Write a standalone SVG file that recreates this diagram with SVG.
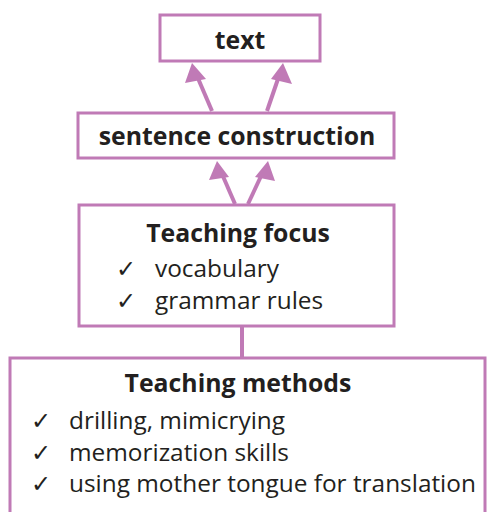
<svg xmlns="http://www.w3.org/2000/svg" width="487" height="512" viewBox="0 0 487 512">
<style>
.box{fill:#fff;stroke:#c07ab6;stroke-width:3}
.ln{stroke:#c07ab6;stroke-width:4;fill:none}
.b{font-family:"Open Sans","Noto Sans",sans-serif;font-weight:bold;font-size:24.8px;fill:#231f20}
.r{font-family:"Open Sans","Noto Sans",sans-serif;font-size:24.4px;fill:#231f20}
.ck{font-family:"DejaVu Sans",sans-serif;font-size:24px;fill:#231f20}
</style>
<g id="connectors">
<line class="ln" x1="212" y1="111" x2="197" y2="76"/>
<polygon points="192,63 185,83 206,79" fill="#c07ab6"/>
<line class="ln" x1="267" y1="111" x2="279" y2="76"/>
<polygon points="283,63 271,79 292,84" fill="#c07ab6"/>
<line class="ln" x1="235" y1="204" x2="222" y2="174"/>
<polygon points="217,161 209,180 229,177" fill="#c07ab6"/>
<line class="ln" x1="248" y1="204" x2="262" y2="174"/>
<polygon points="268,161 255,177 275,181" fill="#c07ab6"/>
<line class="ln" x1="242" y1="327" x2="242" y2="357" stroke-width="3"/>
</g>
<g id="node-text">
<rect class="box" x="160" y="15" width="160" height="46"/>
<text class="b" x="240" y="49" text-anchor="middle">text</text>
</g>
<g id="node-sentence">
<rect class="box" x="78" y="113" width="316" height="45"/>
<text class="b" x="237" y="145" text-anchor="middle">sentence construction</text>
</g>
<g id="node-focus">
<rect class="box" x="79" y="205" width="315" height="121"/>
<text class="b" x="238" y="242" text-anchor="middle">Teaching focus</text>
<text class="ck" x="116" y="277">✓</text>
<text class="r" x="155" y="277">vocabulary</text>
<text class="ck" x="116" y="309">✓</text>
<text class="r" x="155" y="309">grammar rules</text>
</g>
<g id="node-methods">
<rect class="box" x="10" y="358" width="475" height="170"/>
<text class="b" x="238" y="392" text-anchor="middle">Teaching methods</text>
<text class="ck" x="31" y="429">✓</text>
<text class="r" x="69" y="429">drilling, mimicrying</text>
<text class="ck" x="31" y="461">✓</text>
<text class="r" x="69" y="461">memorization skills</text>
<text class="ck" x="31" y="492">✓</text>
<text class="r" x="69" y="492">using mother tongue for translation</text>
</g>
</svg>
